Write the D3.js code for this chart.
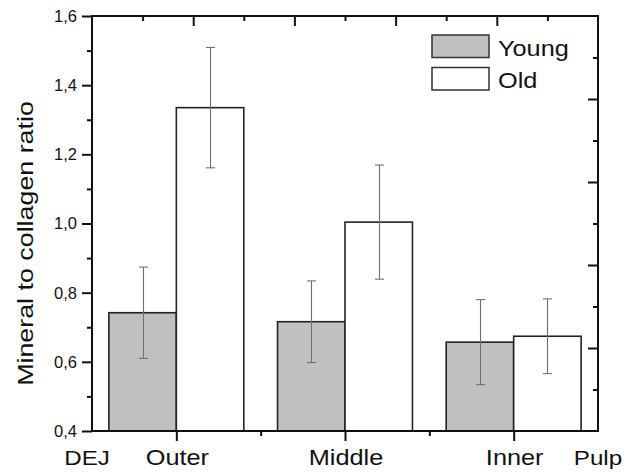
<!DOCTYPE html>
<html>
<head>
<meta charset="utf-8">
<script src="https://cdn.jsdelivr.net/npm/d3@7"></script>
<style>
  html, body { margin: 0; padding: 0; background: #fff; }
  svg { display: block; }
  text { font-family: "Liberation Sans", Arial, Helvetica, sans-serif; fill: #111; }
</style>
</head>
<body>
<svg id="chart" width="637" height="472"></svg>
<script>
// ---- data ----
const categories = ["Outer", "Middle", "Inner"];
const youngValues = [0.742, 0.716, 0.657];
const youngErrors = [0.132, 0.118, 0.123];
const oldValues = [1.335, 1.004, 0.674];
const oldErrors = [0.174, 0.165, 0.108];
const seriesNames = ["Young", "Old"];
const yMajorTicks = [0.4, 0.6, 0.8, 1.0, 1.2, 1.4, 1.6];
const yMinorTicks = [0.5, 0.7, 0.9, 1.1, 1.3, 1.5];
const xEndLabels = ["DEJ", "Pulp"];
const yTitle = "Mineral to collagen ratio";

// ---- layout ----
const svg = d3.select("#chart");
const L = 92, R = 598, T = 16, B = 431;
const catPos = [1, 3, 5];
const x = d3.scaleLinear().domain([0, 6]).range([L, R]);
const y = d3.scaleLinear().domain([0.4, 1.6]).range([B, T]);
const barW = 0.8;
const youngFill = "#c0c0c0";
const stroke = "#222";

// bars
const g = svg.append("g");
categories.forEach((c, i) => {
  const cx = catPos[i];
  g.append("rect")
    .attr("x", x(cx - barW)).attr("width", x(cx) - x(cx - barW))
    .attr("y", y(youngValues[i])).attr("height", y(0.4) - y(youngValues[i]))
    .attr("fill", youngFill).attr("stroke", stroke).attr("stroke-width", 1.6);
  g.append("rect")
    .attr("x", x(cx)).attr("width", x(cx + barW) - x(cx))
    .attr("y", y(oldValues[i])).attr("height", y(0.4) - y(oldValues[i]))
    .attr("fill", "#fff").attr("stroke", stroke).attr("stroke-width", 1.6);
});

// error bars
function errBar(xc, v, e) {
  const ge = svg.append("g").attr("stroke", "#707070").attr("stroke-width", 1.1);
  const px = Math.round(xc) + 0.5;
  ge.append("line").attr("x1", px).attr("x2", px).attr("y1", y(v + e)).attr("y2", y(v - e));
  [v + e, v - e].forEach(t => {
    ge.append("line").attr("x1", px - 4.5).attr("x2", px + 4.5).attr("y1", y(t)).attr("y2", y(t));
  });
}
categories.forEach((c, i) => {
  const cx = catPos[i];
  errBar(x(cx - barW / 2), youngValues[i], youngErrors[i]);
  errBar(x(cx + barW / 2), oldValues[i], oldErrors[i]);
});

// axes ticks
function styleAxis(sel) {
  sel.select(".domain").remove();
  sel.selectAll("line").attr("stroke", "#111").attr("stroke-width", 2);
  sel.selectAll("text").remove();
}
// left
svg.append("g").attr("transform", `translate(${L},0)`)
  .call(d3.axisLeft(y).tickValues(yMajorTicks).tickSize(10).tickFormat("")).call(styleAxis);
svg.append("g").attr("transform", `translate(${L},0)`)
  .call(d3.axisLeft(y).tickValues(yMinorTicks).tickSize(5).tickFormat("")).call(styleAxis);
// right (inward), own 10-step scale
const yR = d3.scaleLinear().domain([0, 10]).range([B, T]);
svg.append("g").attr("transform", `translate(${R},0)`)
  .call(d3.axisLeft(yR).tickValues([2, 4, 6, 8]).tickSize(10).tickFormat("")).call(styleAxis);
svg.append("g").attr("transform", `translate(${R},0)`)
  .call(d3.axisLeft(yR).tickValues([1, 3, 5, 7, 9]).tickSize(5).tickFormat("")).call(styleAxis);
// top (inward), own 10-step scale
const xT = d3.scaleLinear().domain([0, 10]).range([L, R]);
svg.append("g").attr("transform", `translate(0,${T})`)
  .call(d3.axisBottom(xT).tickValues([2, 4, 6, 8]).tickSize(10).tickFormat("")).call(styleAxis);
svg.append("g").attr("transform", `translate(0,${T})`)
  .call(d3.axisBottom(xT).tickValues([1, 3, 5, 7, 9]).tickSize(5).tickFormat("")).call(styleAxis);
// bottom
svg.append("g").attr("transform", `translate(0,${B})`)
  .call(d3.axisBottom(x).tickValues(catPos).tickSize(10).tickFormat("")).call(styleAxis);
svg.append("g").attr("transform", `translate(0,${B})`)
  .call(d3.axisBottom(x).tickValues([2, 4]).tickSize(5).tickFormat("")).call(styleAxis);

// frame
svg.append("rect").attr("x", L).attr("y", T).attr("width", R - L).attr("height", B - T)
  .attr("fill", "none").attr("stroke", "#111").attr("stroke-width", 2);

// y tick labels
svg.append("g").selectAll("text").data(yMajorTicks).join("text")
  .attr("x", 77).attr("y", d => y(d)).attr("dy", "0.36em")
  .attr("text-anchor", "end").style("font-size", "16.5px")
  .text(d => d.toFixed(1).replace(".", ","));

// x labels
const sx = 1.15;
function hText(xp, yp, txt, size, anchor) {
  svg.append("text")
    .attr("transform", `translate(${xp},${yp}) scale(${sx},1)`)
    .attr("text-anchor", anchor).style("font-size", size + "px").text(txt);
}
categories.forEach((c, i) => hText(x(catPos[i]) + 1, 465, c, 22, "middle"));
hText(x(0) - 5, 465, xEndLabels[0], 21, "middle");
hText(x(6), 465, xEndLabels[1], 21, "middle");

// y title
svg.append("text")
  .attr("transform", `translate(33,243.5) rotate(-90) scale(1.22,1)`)
  .attr("text-anchor", "middle").style("font-size", "22px").text(yTitle);

// legend
const leg = svg.append("g");
const fills = [youngFill, "#fff"];
seriesNames.forEach((s, i) => {
  const top = 35 + i * 32.5;
  leg.append("rect").attr("x", 432).attr("y", top).attr("width", 57).attr("height", 22.5)
    .attr("fill", fills[i]).attr("stroke", "#333").attr("stroke-width", 1.5);
  hText(498, top + 20.5, s, 22, "start");
});
</script>
</body>
</html>
